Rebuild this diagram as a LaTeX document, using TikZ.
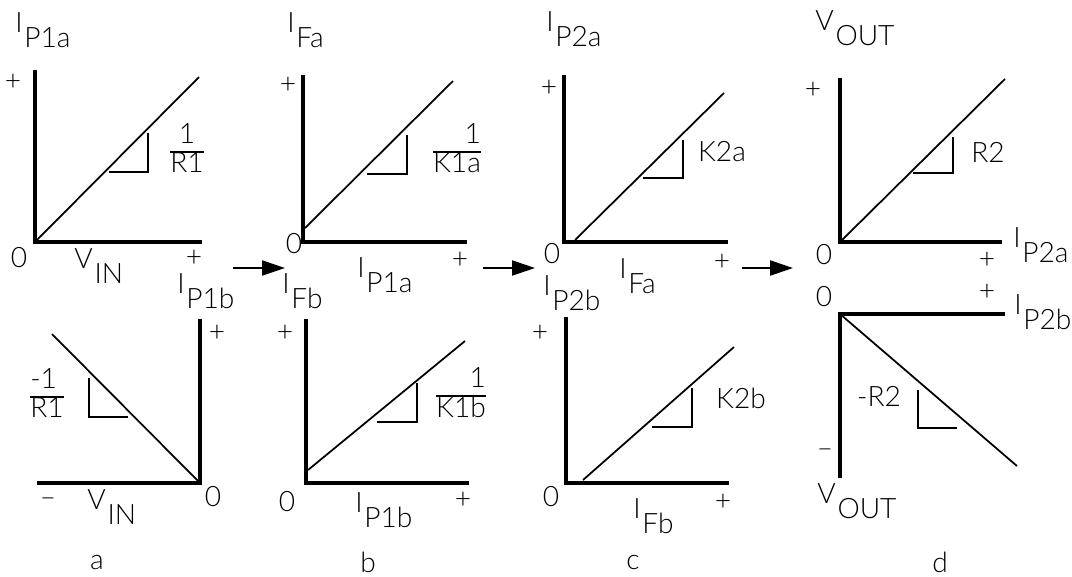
\documentclass[tikz,border=0pt]{standalone}
\usepackage{fontspec}
\IfFontExistsTF{Lato Light}{\setmainfont{Lato Light}}{\setmainfont{Lato}}
\usetikzlibrary{arrows.meta}

% axis name with a dropped index
\newcommand{\axl}[2]{#1\kern1pt\raisebox{-0.55em}{#2}}
% slope fraction
\newcommand{\fr}[3]{{\setlength{\arrayrulewidth}{1.1pt}\renewcommand{\arraystretch}{0.8}%
  \begin{tabular}{@{}#1@{}}#2\\\hline #3\end{tabular}}}

\begin{document}
\begin{tikzpicture}[
    x=0.02cm, y=-0.02cm,
    axis/.style={line width=2.3pt},
    curve/.style={line width=1pt},
    slope/.style={line width=0.9pt},
    lab/.style={font=\fontsize{16}{18}\selectfont, inner sep=0pt, anchor=base west},
    zero/.style={font=\fontsize{16}{18}\selectfont, inner sep=0pt},
    sign/.style={font=\fontsize{16}{18}\selectfont, inner sep=0pt},
    grad/.style={font=\fontsize{16}{18}\selectfont, inner sep=0pt},
    flow/.style={line width=1.2pt, -{Triangle[length=13pt, width=8.5pt]}}
]
\useasboundingbox (0,0) rectangle (1072,576);

% Top row: axes
\foreach \ox/\top/\rt in {35/70/202, 303/75/467, 564/75/728, 840/78/1002} {
    \draw[axis] (\ox,\top) -- (\ox,242) -- (\rt,242);
}

% Top row: transfer lines and slope marks
\draw[curve] (35,242) -- (199,77);
\draw[slope] (109,172) -- (148,172) -- (148,133);
\draw[curve] (305,228) -- (453,81);
\draw[slope] (367,174) -- (407,174) -- (407,135);
\draw[curve] (575,240) -- (724,93);
\draw[slope] (643,178) -- (683,178) -- (683,140);
\draw[curve] (840,242) -- (1005,79);
\draw[slope] (913,173) -- (953,173) -- (953,137);

% Bottom row: axes
\draw[axis] (37,483) -- (200,483) -- (200,319);
\draw[axis] (306,319) -- (306,483) -- (469,483);
\draw[axis] (566,317) -- (566,483) -- (729,483);
\draw[axis] (1005,314) -- (840,314) -- (840,478);

% Bottom row: transfer lines and slope marks
\draw[curve] (52,334) -- (200,483);
\draw[slope] (89,378) -- (89,417) -- (128,417);
\draw[curve] (308,470) -- (465,341);
\draw[slope] (377,422) -- (417,422) -- (417,383);
\draw[curve] (583,480) -- (734,347);
\draw[slope] (652,427) -- (692,427) -- (692,388);
\draw[curve] (840,314) -- (1017,466);
\draw[slope] (918,390) -- (918,428) -- (957,428);

% Axis names
\node[lab] (iP1a) at (15,32) {\axl{I}{P1a}};
\node[lab] (iFa) at (287,32) {\axl{I}{Fa}};
\node[lab] (iP2a) at (546,31) {\axl{I}{P2a}};
\node[lab] (vOut) at (815,30) {\axl{V}{OUT}};
\node[lab] (vIn) at (74,268) {\axl{V}{IN}};
\node[lab] (iP1aX) at (357,277) {\axl{I}{P1a}};
\node[lab] (iFaX) at (619,278) {\axl{I}{Fa}};
\node[lab] (iP2aX) at (1013,247) {\axl{I}{P2a}};
\node[lab] (iP1b) at (177,293) {\axl{I}{P1b}};
\node[lab] (iFb) at (282,293) {\axl{I}{Fb}};
\node[lab] (iP2b) at (543,295) {\axl{I}{P2b}};
\node[lab] (iP2bX) at (1014,314) {\axl{I}{P2b}};
\node[lab] (vInB) at (87,509) {\axl{V}{IN}};
\node[lab] (iP1bX) at (355,512) {\axl{I}{P1b}};
\node[lab] (iFbX) at (633,518) {\axl{I}{Fb}};
\node[lab] (vOutB) at (817,503) {\axl{V}{OUT}};

% Origins and signs
\foreach \x/\y [count=\i] in {19/258, 294/244, 552/254, 824/255, 213/497, 287/502, 551/497, 824/297} {
    \node[zero] (z\i) at (\x,\y) {0};
}
\foreach \x/\y [count=\i] in {13/82, 194/258, 288/85, 460/260, 549/88, 722/262, 813/90, 987/260,
                              217/333, 285/333, 463/500, 540/333, 723/502, 987/292} {
    \node[sign] (p\i) at (\x,\y) {+};
}
\node[sign] (m1) at (48,502) {--};
\node[sign] (m2) at (825,453) {--};

% Slopes
\node[grad] (g1) at (187,152) {\fr{c}{1}{R1}};
\node[grad] (g2) at (457,152) {\fr{r}{1}{K1a}};
\node[grad] (g3) at (722,152) {K2a};
\node[grad] (g4) at (988,152) {R2};
\node[grad] (g5) at (47,397) {\fr{l}{-1}{R1}};
\node[grad] (g6) at (461,396) {\fr{r}{1}{K1b}};
\node[grad] (g7) at (741,398) {K2b};
\node[grad] (g8) at (879,396) {-R2};

% Panel letters
\foreach \x/\t in {97/a, 368/b, 633/c, 940/d} {
    \node[zero] (n\t) at (\x,562) {\t};
}

% Arrows between panels
\foreach \i/\a/\b in {1/233/285, 2/483/535, 3/742/793} {
    \coordinate (f\i) at (\a,268);
    \coordinate (t\i) at (\b,268);
    \draw[flow] (f\i) -- (t\i);
}

\end{tikzpicture}
\end{document}
